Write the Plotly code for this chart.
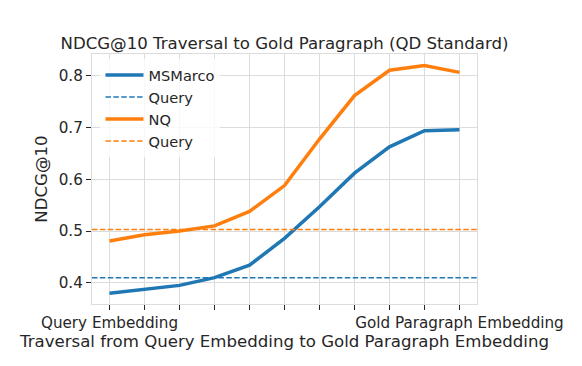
import plotly.graph_objects as go

steps = list(range(11))
tick_labels = ["Query Embedding"] + [""] * 9 + ["Gold Paragraph Embedding"]
msmarco = [0.380, 0.388, 0.395, 0.410, 0.434, 0.486, 0.547, 0.612, 0.663, 0.694, 0.696]
nq = [0.481, 0.493, 0.500, 0.510, 0.538, 0.588, 0.678, 0.762, 0.811, 0.820, 0.807]
msmarco_query = 0.410
nq_query = 0.503

BLUE = "#1f77b4"
ORANGE = "#ff7f0e"
TXT = "#262626"
GRID = "#dcdcdc"

x_lo, x_hi = min(steps) - 0.5, max(steps) + 0.5

fig = go.Figure()
fig.add_trace(go.Scatter(x=steps, y=msmarco, mode="lines", name="MSMarco",
                         line=dict(color=BLUE, width=3.5)))
fig.add_trace(go.Scatter(x=[x_lo, x_hi], y=[msmarco_query] * 2, mode="lines", name="Query",
                         line=dict(color=BLUE, width=1.5, dash="5.5px,2.4px")))
fig.add_trace(go.Scatter(x=steps, y=nq, mode="lines", name="NQ",
                         line=dict(color=ORANGE, width=3.5)))
fig.add_trace(go.Scatter(x=[x_lo, x_hi], y=[nq_query] * 2, mode="lines", name="Query",
                         line=dict(color=ORANGE, width=1.5, dash="5.5px,2.4px")))

fig.update_layout(
    width=582, height=366,
    margin=dict(l=92, r=105, t=54, b=62),
    paper_bgcolor="white", plot_bgcolor="white",
    font=dict(family="DejaVu Sans", size=15, color=TXT),
    title=dict(text="NDCG@10 Traversal to Gold Paragraph (QD Standard)",
               x=(92 + 477) / 2 / 582, xanchor="center", y=1 - 43 / 366, yanchor="middle",
               font=dict(size=16.6, color=TXT)),
    showlegend=True,
    legend=dict(x=0.022, y=0.98, xanchor="left", yanchor="top",
                bgcolor="rgba(255,255,255,0.8)", borderwidth=0, itemwidth=38,
                font=dict(size=14.6, color=TXT), tracegroupgap=0),
)
fig.update_xaxes(
    range=[x_lo, x_hi], tickmode="array", tickvals=steps, ticktext=tick_labels,
    showgrid=True, gridcolor=GRID, gridwidth=1, zeroline=False,
    showline=True, linecolor=GRID, linewidth=1.2, mirror=True,
    ticks="outside", ticklen=5, tickcolor=TXT, tickwidth=1,
    tickfont=dict(size=15.2, color=TXT),
    title=dict(text="Traversal from Query Embedding to Gold Paragraph Embedding",
               font=dict(size=16.6, color=TXT), standoff=4),
    automargin=False,
)
fig.update_yaxes(
    range=[0.359, 0.8425], tickvals=[0.4, 0.5, 0.6, 0.7, 0.8],
    ticktext=["0.4", "0.5", "0.6", "0.7", "0.8"],
    showgrid=True, gridcolor=GRID, gridwidth=1, zeroline=False,
    showline=True, linecolor=GRID, linewidth=1.2, mirror=True,
    ticks="outside", ticklen=5, tickcolor=TXT, tickwidth=1,
    tickfont=dict(size=15.2, color=TXT),
    title=dict(text="NDCG@10", font=dict(size=16.6, color=TXT), standoff=6),
    automargin=False,
)
fig.write_html("out.html", config={"displayModeBar": False},
               post_script="document.body.style.margin='0';document.body.style.padding='0';")
